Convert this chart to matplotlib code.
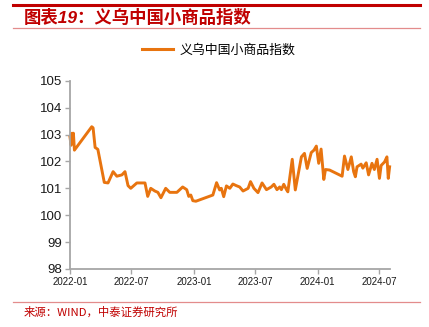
import matplotlib
matplotlib.use("Agg")
import matplotlib.pyplot as plt
from matplotlib.lines import Line2D
import pandas as pd

plt.rcParams['font.family'] = ['Liberation Sans', 'Noto Sans CJK SC', 'DejaVu Sans']

title = "图表19：义乌中国小商品指数"
series_name = "义乌中国小商品指数"
source = "来源：WIND，中泰证券研究所"

dates = [
    "2022-01-01", "2022-01-04", "2022-01-07", "2022-01-09", "2022-01-11", "2022-01-14",
    "2022-03-06", "2022-03-10", "2022-03-16", "2022-03-24", "2022-04-12", "2022-04-23",
    "2022-05-08", "2022-05-19", "2022-06-03", "2022-06-12", "2022-06-21", "2022-06-29",
    "2022-07-17", "2022-08-10", "2022-08-18", "2022-08-27", "2022-09-08", "2022-09-17",
    "2022-09-26", "2022-10-10", "2022-10-22", "2022-11-12", "2022-11-29", "2022-12-11",
    "2022-12-17", "2022-12-23", "2022-12-29", "2023-01-07", "2023-02-26", "2023-03-09",
    "2023-03-18", "2023-03-23", "2023-03-30", "2023-04-07", "2023-04-17", "2023-04-26",
    "2023-05-06", "2023-05-16", "2023-05-26", "2023-06-10", "2023-06-17", "2023-06-27",
    "2023-07-09", "2023-07-21", "2023-08-03", "2023-08-17", "2023-08-25", "2023-09-03",
    "2023-09-11", "2023-09-16", "2023-09-23", "2023-10-01", "2023-10-05", "2023-10-18",
    "2023-10-27", "2023-11-14", "2023-11-23", "2023-12-01", "2023-12-13", "2023-12-21",
    "2023-12-28", "2024-01-04", "2024-01-11", "2024-01-19", "2024-01-24", "2024-02-05",
    "2024-03-05", "2024-03-13", "2024-03-20", "2024-03-30", "2024-04-09", "2024-04-16",
    "2024-04-21", "2024-04-26", "2024-05-08", "2024-05-13", "2024-05-23", "2024-05-30",
    "2024-06-09", "2024-06-16", "2024-06-24", "2024-07-01", "2024-07-06", "2024-07-16",
    "2024-07-23", "2024-07-27", "2024-07-31",
]
values = [
    102.90, 102.60, 103.05, 102.70, 103.05, 102.42,
    103.29, 103.25, 102.52, 102.45, 101.22, 101.20,
    101.62, 101.45, 101.50, 101.62, 101.10, 101.00,
    101.20, 101.20, 100.70, 101.00, 100.90, 100.85,
    100.65, 101.00, 100.85, 100.85, 101.05, 100.95,
    100.70, 100.75, 100.54, 100.52, 100.75, 101.21,
    100.94, 101.00, 100.69, 101.09, 101.00, 101.16,
    101.10, 101.05, 100.90, 101.00, 101.25, 101.00,
    100.84, 101.20, 100.95, 101.05, 101.15, 100.95,
    101.05, 100.95, 101.15, 100.95, 100.87, 102.08,
    100.94, 102.17, 102.30, 101.74, 102.33, 102.42,
    102.57, 101.93, 102.46, 101.33, 101.70, 101.68,
    101.50, 101.45, 102.20, 101.70, 102.17, 101.62,
    101.43, 101.80, 101.90, 101.75, 101.95, 101.50,
    101.93, 101.70, 102.08, 101.37, 101.85, 101.98,
    102.17, 101.37, 101.80,
]
x_ticks = ["2022-01", "2022-07", "2023-01", "2023-07", "2024-01", "2024-07"]
y_ticks = [98, 99, 100, 101, 102, 103, 104, 105]

red = "#C00000"
pink = "#E38C8C"
orange = "#E8740F"
grey = "#A6A6A6"

fig = plt.figure(figsize=(4.29, 3.27), dpi=100)
ax = fig.add_axes([0.1632, 0.1774, 0.7458, 0.5756])

d = pd.to_datetime(dates)
ax.plot(d, values, color=orange, lw=2.1, solid_joinstyle="round", clip_on=False)

ax.set_ylim(98, 105)
ax.set_yticks(y_ticks)
ax.set_yticklabels([str(v) for v in y_ticks], fontsize=9.5, color="#1a1a1a")
tick_dates = pd.to_datetime([t + "-01" for t in x_ticks])
ax.set_xticks(tick_dates)
ax.set_xticklabels(x_ticks, fontsize=7, color="#1a1a1a")
ax.set_xlim(pd.Timestamp("2022-01-01"), pd.Timestamp("2024-08-01"))

for s in ["top", "right"]:
    ax.spines[s].set_visible(False)
for s in ["left", "bottom"]:
    ax.spines[s].set_color(grey)
    ax.spines[s].set_linewidth(1.3)
ax.tick_params(axis="both", color=grey, width=1.0, length=3.5, pad=2)

# legend
handle = Line2D([], [], color=orange, lw=2.2)
fig.legend([handle], [series_name], loc="center", bbox_to_anchor=(0.51, 0.847),
           frameon=False, handlelength=2.4, handletextpad=0.5,
           prop={"family": "Noto Sans CJK SC", "size": 9.3})

# header and footer
fig.add_artist(Line2D([0.031, 0.979], [0.985, 0.985], color=red, lw=2.2))
fig.text(0.055, 0.947, title, color=red, fontsize=12.5, fontweight="bold",
         fontstyle="italic", family=["Liberation Sans", "Noto Sans CJK SC"],
         va="center", ha="left")
fig.add_artist(Line2D([0.031, 0.979], [0.913, 0.913], color=pink, lw=0.9))
fig.add_artist(Line2D([0.031, 0.979], [0.076, 0.076], color=pink, lw=0.9))
fig.text(0.055, 0.047, source, color=red, fontsize=8.2,
         family=["Noto Sans CJK SC", "DejaVu Sans"], va="center", ha="left")

fig.savefig("out.png", dpi=100)
